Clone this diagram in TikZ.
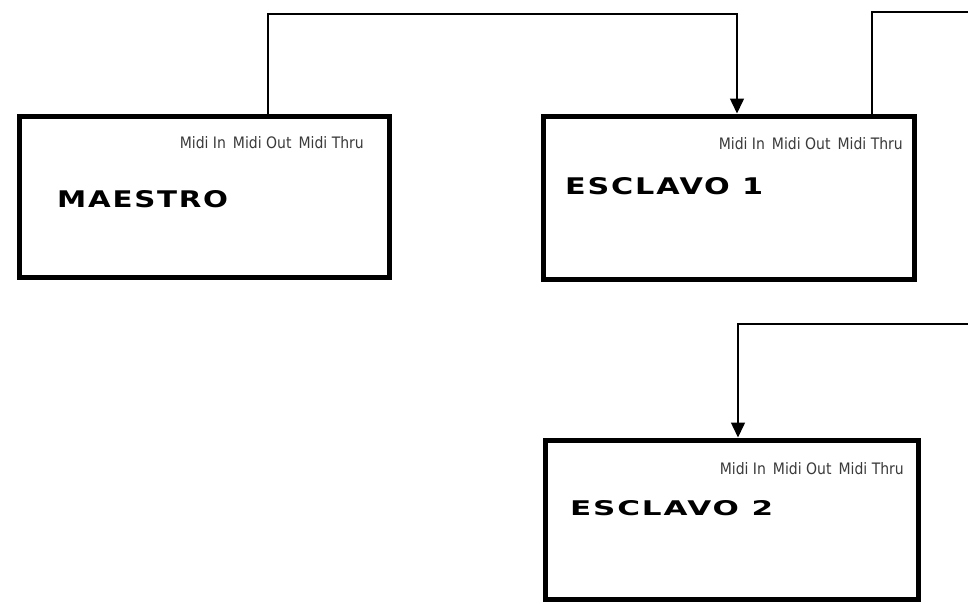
\documentclass[tikz,border=0pt]{standalone}
\usepackage{fontspec}
\usepackage{graphicx}
\setmainfont{DejaVu Sans}
\newfontfamily\titlefont[LetterSpace=6]{DejaVu Sans Bold}
\newfontfamily\midifont{DejaVu Sans}
\usetikzlibrary{arrows.meta}
\definecolor{miditext}{HTML}{3A3A3A}
\tikzset{
  unitbox/.style={draw=black, line width=5pt, inner sep=0pt, minimum width=#1},
  conn/.style={draw=black, line width=1.5pt},
  arr/.style={conn, -{Triangle[width=14pt,length=15pt]}},
  titletext/.style={inner sep=0pt, anchor=west, text=black},
  miditxt/.style={inner sep=0pt, anchor=east, text=miditext},
}
\newcommand{\midilabel}{\resizebox{184pt}{12pt}{\midifont Midi In\enspace Midi Out\enspace Midi Thru}}
\begin{document}
\begin{tikzpicture}[x=1pt,y=-1pt]
\useasboundingbox (0,0) rectangle (968,603);
% boxes
\node[unitbox=370pt, minimum height=161pt] (m) at (204,196.5) {};
\node[unitbox=371pt, minimum height=163pt] (e1) at (728.5,197.5) {};
\node[unitbox=373pt, minimum height=159pt] (e2) at (731.5,519.5) {};
% titles
\node[titletext] (mt) at (57,199) {\resizebox{171pt}{17pt}{\titlefont MAESTRO}};
\node[titletext] (e1t) at (565,186) {\resizebox{198pt}{17pt}{\titlefont ESCLAVO 1}};
\node[titletext] (e2t) at (570,508) {\resizebox{203pt}{15pt}{\titlefont ESCLAVO 2}};
% midi labels
\node[miditxt] (mm) at (364,143) {\midilabel};
\node[miditxt] (e1m) at (903,144) {\midilabel};
\node[miditxt] (e2m) at (904,469) {\midilabel};
% connector points
\coordinate (mout) at (m.north -| 268,0);
\coordinate (top1) at (268,14);
\coordinate (e1in) at (e1.north -| 737,0);
\coordinate (e1thru) at (e1.north -| 872,0);
\coordinate (top2) at (872,12);
\coordinate (rightA) at (968,12);
\coordinate (rightB) at (968,324);
\coordinate (e2in) at (e2.north -| 738,0);
% connectors
\draw[arr] (mout) -- (top1) -| (e1in);
\draw[conn] (e1thru) -- (top2) -- (rightA);
\draw[arr] (rightB) -| (e2in);
\end{tikzpicture}
\end{document}
